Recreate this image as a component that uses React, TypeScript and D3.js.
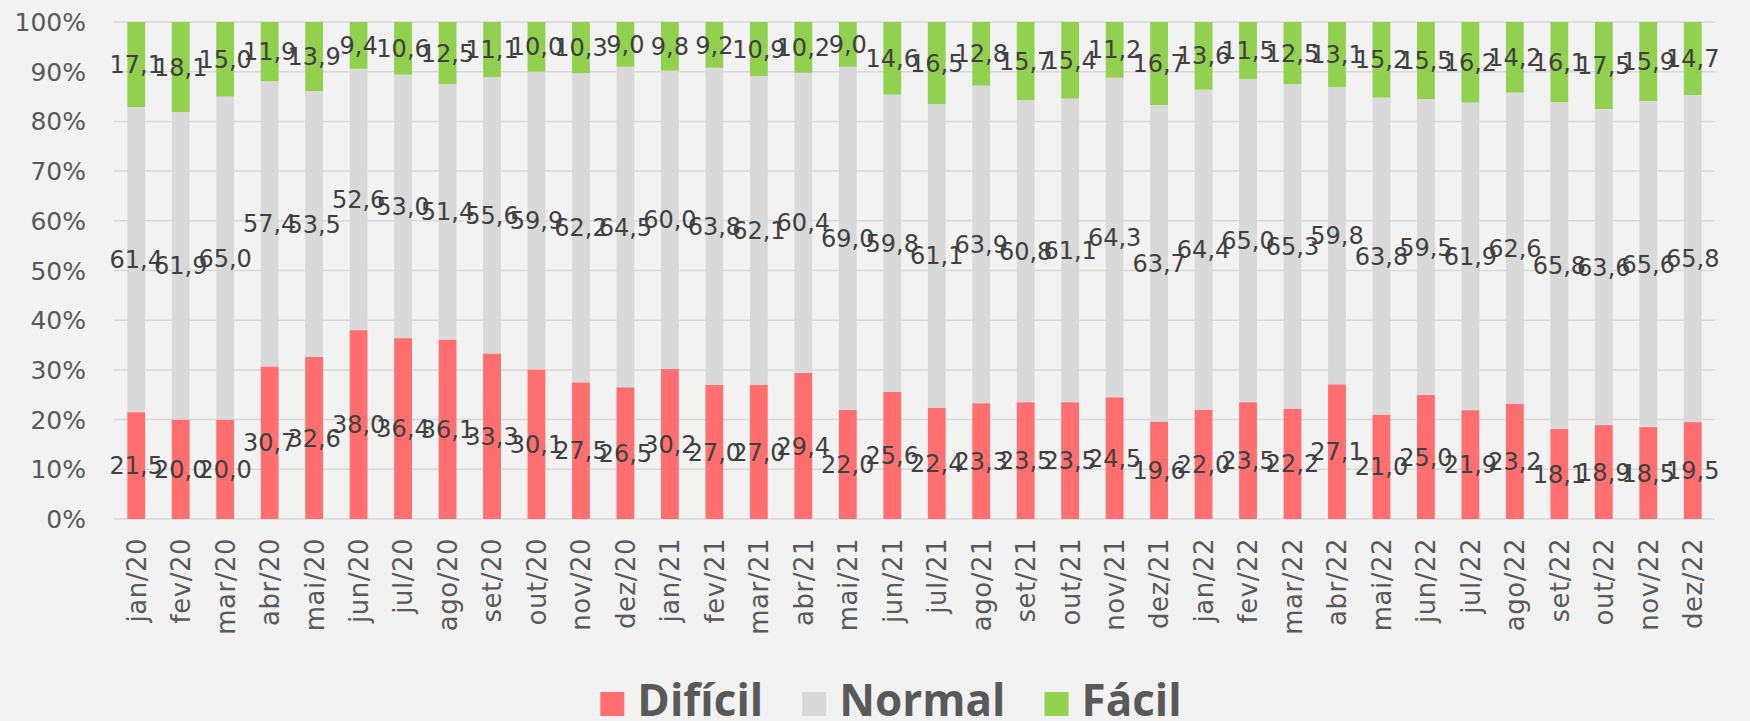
import React, { useEffect, useRef } from "react";
import * as d3 from "d3";

const months = [
    "jan/20", "fev/20", "mar/20", "abr/20", "mai/20", "jun/20", "jul/20", "ago/20", "set/20", "out/20", "nov/20", "dez/20",
    "jan/21", "fev/21", "mar/21", "abr/21", "mai/21", "jun/21", "jul/21", "ago/21", "set/21", "out/21", "nov/21", "dez/21",
    "jan/22", "fev/22", "mar/22", "abr/22", "mai/22", "jun/22", "jul/22", "ago/22", "set/22", "out/22", "nov/22", "dez/22",
];

const dificil = [
    21.5, 20.0, 20.0, 30.7, 32.6, 38.0, 36.4, 36.1, 33.3, 30.1, 27.5, 26.5,
    30.2, 27.0, 27.0, 29.4, 22.0, 25.6, 22.4, 23.3, 23.5, 23.5, 24.5, 19.6,
    22.0, 23.5, 22.2, 27.1, 21.0, 25.0, 21.9, 23.2, 18.1, 18.9, 18.5, 19.5,
];

const normal = [
    61.4, 61.9, 65.0, 57.4, 53.5, 52.6, 53.0, 51.4, 55.6, 59.9, 62.2, 64.5,
    60.0, 63.8, 62.1, 60.4, 69.0, 59.8, 61.1, 63.9, 60.8, 61.1, 64.3, 63.7,
    64.4, 65.0, 65.3, 59.8, 63.8, 59.5, 61.9, 62.6, 65.8, 63.6, 65.6, 65.8,
];

const facil = [
    17.1, 18.1, 15.0, 11.9, 13.9, 9.4, 10.6, 12.5, 11.1, 10.0, 10.3, 9.0,
    9.8, 9.2, 10.9, 10.2, 9.0, 14.6, 16.5, 12.8, 15.7, 15.4, 11.2, 16.7,
    13.6, 11.5, 12.5, 13.1, 15.2, 15.5, 16.2, 14.2, 16.1, 17.5, 15.9, 14.7,
];

const seriesNames = ["Difícil", "Normal", "Fácil"];
const seriesColors = ["#FF6F6F", "#D9D9D9", "#92D050"];
const yTicks = [0, 10, 20, 30, 40, 50, 60, 70, 80, 90, 100];

const W = 1750;
const H = 721;

export default function App() {
    const ref = useRef<SVGSVGElement>(null);

    useEffect(() => {
        document.body.style.margin = "0";
        const svg = d3.select(ref.current);
        svg.selectAll("*").remove();

        const plot = { left: 114, right: 1715, top: 22, bottom: 519 };

        const rows = months.map((m, i) => ({
            month: m,
            "Difícil": dificil[i],
            "Normal": normal[i],
            "Fácil": facil[i],
        }));

        const xScale = d3
            .scaleBand()
            .domain(months)
            .range([plot.left, plot.right])
            .paddingInner(0.6)
            .paddingOuter(0.3);

        const yScale = d3
            .scaleLinear()
            .domain([0, 100])
            .range([plot.bottom, plot.top]);

        const stacked = d3.stack<any>().keys(seriesNames)(rows);

        // gridlines
        svg
            .append("g")
            .selectAll("line")
            .data(yTicks)
            .enter()
            .append("line")
            .attr("x1", plot.left)
            .attr("x2", plot.right)
            .attr("y1", (d) => yScale(d))
            .attr("y2", (d) => yScale(d))
            .attr("stroke", "#D9D9D9")
            .attr("stroke-width", 1.5);

        // y tick labels
        svg
            .append("g")
            .selectAll("text")
            .data(yTicks)
            .enter()
            .append("text")
            .attr("x", 86)
            .attr("y", (d) => yScale(d))
            .attr("dy", "0.36em")
            .attr("text-anchor", "end")
            .style("font-family", "'DejaVu Sans', sans-serif")
            .style("font-size", "25px")
            .style("fill", "#595959")
            .text((d) => `${d}%`);

        // bars
        stacked.forEach((layer, si) => {
            svg
                .append("g")
                .selectAll("rect")
                .data(layer)
                .enter()
                .append("rect")
                .attr("x", (d: any) => xScale(d.data.month) as number)
                .attr("width", xScale.bandwidth())
                .attr("y", (d) => yScale(d[1]))
                .attr("height", (d) => yScale(d[0]) - yScale(d[1]))
                .attr("fill", seriesColors[si]);
        });

        // data labels (centered in each segment, like the original)
        stacked.forEach((layer) => {
            svg
                .append("g")
                .selectAll("text")
                .data(layer)
                .enter()
                .append("text")
                .attr("x", (d: any) => (xScale(d.data.month) as number) + xScale.bandwidth() / 2)
                .attr("y", (d) => yScale((d[0] + d[1]) / 2))
                .attr("dy", "0.36em")
                .attr("text-anchor", "middle")
                .style("font-family", "'DejaVu Sans', sans-serif")
                .style("font-size", "24px")
                .style("fill", "#404040")
                .text((d) => (d[1] - d[0]).toFixed(1).replace(".", ","));
        });

        // x labels
        svg
            .append("g")
            .selectAll("text")
            .data(months)
            .enter()
            .append("text")
            .attr("transform", (d) => `translate(${(xScale(d) as number) + xScale.bandwidth() / 2}, 538) rotate(-90)`)
            .attr("dy", "0.36em")
            .attr("text-anchor", "end")
            .style("font-family", "'DejaVu Sans', sans-serif")
            .style("font-size", "26px")
            .style("letter-spacing", "0.5px")
            .style("fill", "#595959")
            .text((d) => d);

        // legend
        const legend = svg.append("g");
        const sq = 24;
        const gap = 13;
        const itemGap = 39;
        let cursor = 0;
        seriesNames.forEach((name, i) => {
            const g = legend.append("g").attr("transform", `translate(${cursor}, 0)`);
            g.append("rect")
                .attr("x", 0)
                .attr("y", 692)
                .attr("width", sq)
                .attr("height", sq)
                .attr("fill", seriesColors[i]);
            const t = g
                .append("text")
                .attr("x", sq + gap)
                .attr("y", 716)
                .style("font-family", "'Open Sans', sans-serif")
                .style("font-weight", "bold")
                .style("font-size", "44px")
                .style("fill", "#595959")
                .text(name);
            const len = (t.node() as SVGTextElement).getComputedTextLength();
            cursor += sq + gap + len + itemGap;
        });
        const total = cursor - itemGap;
        legend.attr("transform", `translate(${891 - total / 2}, 0)`);
    }, []);

    return <svg ref={ref} width={W} height={H} style={{ display: "block", background: "#F2F2F2" }} />;
}
